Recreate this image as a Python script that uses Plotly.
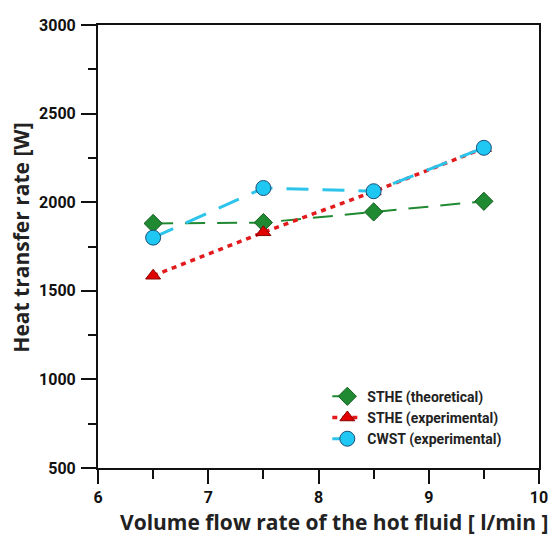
import plotly.graph_objects as go

flow = [6.5, 7.5, 8.5, 9.5]
sthe_theo = [1880, 1885, 1945, 2005]
sthe_exp = [1585, 1830, 2060, 2305]
cwst_exp = [1800, 2080, 2062, 2307]

x_ticks = [6, 7, 8, 9, 10]
y_ticks = [500, 1000, 1500, 2000, 2500, 3000]

fig = go.Figure()
fig.add_trace(go.Scatter(
    x=flow, y=sthe_theo, name="STHE (theoretical)", mode="lines+markers",
    line=dict(color="#1f8a32", width=2, dash="20px,12px"),
    marker=dict(symbol="diamond", size=14, color="#1f8a32", line=dict(color="#145c20", width=1))))
fig.add_trace(go.Scatter(
    x=flow, y=sthe_exp, name="STHE (experimental)", mode="lines+markers",
    line=dict(color="#e31a1c", width=3.5, dash="5px,5px"),
    marker=dict(symbol="triangle-up", size=13, color="#e00000", line=dict(color="#8a0000", width=1))))
fig.add_trace(go.Scatter(
    x=flow, y=cwst_exp, name="CWST (experimental)", mode="lines+markers",
    line=dict(color="#2cc4ea", width=3, dash="22px,14px"),
    marker=dict(symbol="circle", size=15, color="#1fc8f2", line=dict(color="#1a4f7a", width=1))))

tickfont = dict(family="Roboto", size=16, color="#111", weight="bold")
titlefont = dict(family="Open Sans", size=21, color="#222", weight="bold")

fig.update_layout(
    width=548, height=527,
    margin=dict(l=90, r=8, t=12, b=67),
    paper_bgcolor="white", plot_bgcolor="white",
    showlegend=True,
    legend=dict(x=0.52, y=0.03, xanchor="left", yanchor="bottom",
                font=dict(family="Roboto", size=14, color="#222", weight="bold"),
                bgcolor="rgba(0,0,0,0)", tracegroupgap=0),
    annotations=[
        dict(text="Volume flow rate of the hot fluid [ l/min ]", font=titlefont,
             xref="paper", yref="paper", x=0.535, y=0, xanchor="center", yanchor="middle",
             yshift=-54, showarrow=False),
        dict(text="Heat transfer rate [W]", font=titlefont, textangle=-90,
             xref="paper", yref="paper", x=0, y=0.52, xanchor="center", yanchor="middle",
             xshift=-77, showarrow=False),
    ],
)
fig.update_xaxes(range=[6, 10], tickmode="array", tickvals=x_ticks,
                 showgrid=False, zeroline=False,
                 showline=True, linecolor="#111", linewidth=2, mirror=True,
                 ticks="outside", ticklen=14, tickwidth=2, tickcolor="#111",
                 minor=dict(dtick=0.5, ticks="outside", ticklen=9, tickwidth=2, tickcolor="#111"),
                 tickfont=tickfont)
fig.update_yaxes(range=[500, 3000], tickmode="array", tickvals=y_ticks,
                 showgrid=False, zeroline=False,
                 showline=True, linecolor="#111", linewidth=2, mirror=True,
                 ticks="outside", ticklen=15, tickwidth=2, tickcolor="#111",
                 minor=dict(dtick=250, ticks="outside", ticklen=8, tickwidth=2, tickcolor="#111"),
                 ticklabelstandoff=2,
                 tickfont=tickfont)

fig.write_html("out.html")
